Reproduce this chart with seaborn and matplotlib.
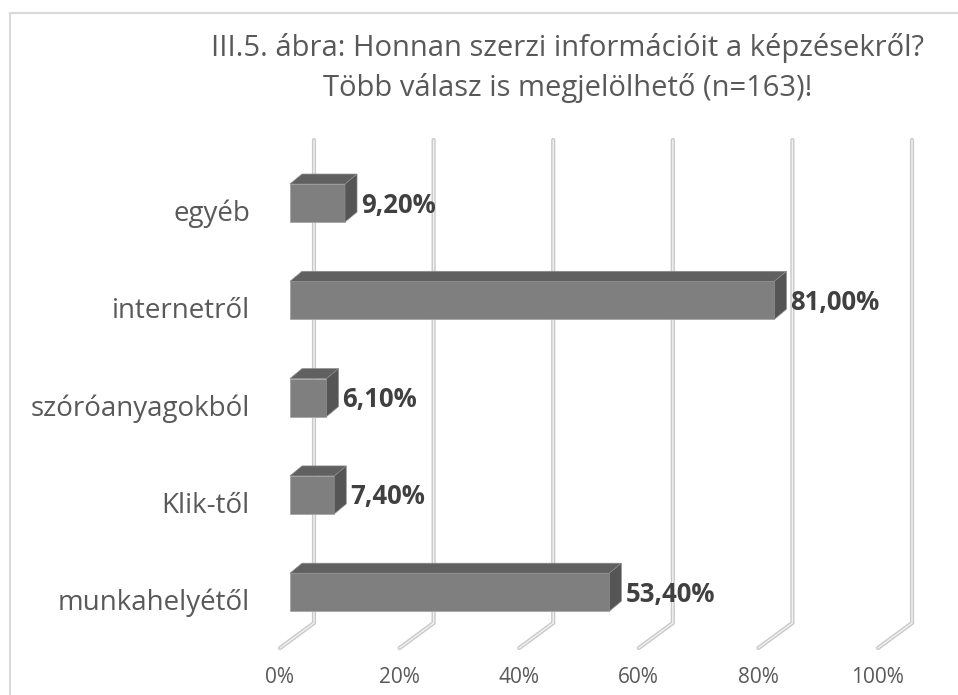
import matplotlib
matplotlib.use("Agg")
import matplotlib.pyplot as plt
from matplotlib.patches import Polygon
from matplotlib.lines import Line2D
import seaborn as sns
import pandas as pd

# ---- data ----
categories = ["egyéb", "internetről", "szóróanyagokból", "Klik-től", "munkahelyétől"]
values = [9.2, 81.0, 6.1, 7.4, 53.4]
tick_values = [0, 20, 40, 60, 80, 100]
tick_labels = ["0%", "20%", "40%", "60%", "80%", "100%"]
title_lines = ["III.5. ábra: Honnan szerzi információit a képzésekről?",
               "Több válasz is megjelölhető (n=163)!"]

sns.set_theme(style="white")
plt.rcParams["font.family"] = ["Open Sans", "DejaVu Sans"]

W, H = 958, 695
fig = plt.figure(figsize=(W / 100, H / 100), dpi=100)

# pixel geometry helpers
X0PX = 290.0      # pixel of 0 % on front plane
XS = 5.98         # pixels per percent
Y0PX = 203.0      # pixel of first category centre (front face)
YS = 97.3         # pixels per category

xlim = (-3, 106)
ytop_px, ybot_px = 130, 690
ax_left = X0PX + xlim[0] * XS
ax_w = (xlim[1] - xlim[0]) * XS
ax = fig.add_axes([ax_left / W, (H - ybot_px) / H, ax_w / W, (ybot_px - ytop_px) / H])

df = pd.DataFrame({"cat": categories, "val": values})
sns.barplot(data=df, x="val", y="cat", orient="h", color="#7f7f7f", saturation=1,
            width=0.39, edgecolor="#a6a6a6", linewidth=0.6, ax=ax, zorder=3)

def py(p):
    return (p - Y0PX) / YS

ax.set_xlim(*xlim)
ax.set_ylim(py(ybot_px), py(ytop_px))
ax.axis("off")

# 3D-ish gridlines (back wall + floor edge)
back_dx = 24 / XS
floor_dx = -10 / XS
for v in tick_values:
    xs = [v + back_dx, v + back_dx, v + floor_dx]
    ys = [py(140), py(623), py(648)]
    ax.plot(xs, ys, color="#c9c9c9", lw=3.0, solid_capstyle="round",
            solid_joinstyle="miter", zorder=1, clip_on=False)
    ax.plot(xs, ys, color="#f2f2f2", lw=1.0, zorder=1.1, clip_on=False)

# 3D faces for bars
dx = 12 / XS
dy = -10 / YS
for p in ax.patches[:len(values)]:
    x0, y0 = p.get_x(), p.get_y()
    w, h = p.get_width(), p.get_height()
    x1 = x0 + w
    top = Polygon([(x0, y0), (x1, y0), (x1 + dx, y0 + dy), (x0 + dx, y0 + dy)],
                  closed=True, facecolor="#606060", edgecolor="#8a8a8a", lw=0.5, zorder=3)
    side = Polygon([(x1, y0), (x1 + dx, y0 + dy), (x1 + dx, y0 + h + dy), (x1, y0 + h)],
                   closed=True, facecolor="#555555", edgecolor="#8a8a8a", lw=0.5, zorder=3)
    ax.add_patch(top)
    ax.add_patch(side)

# value labels
for i, v in enumerate(values):
    txt = f"{v:.2f}".replace(".", ",") + "%"
    ax.text(v + dx + 4 / XS, i + 2 / YS, txt, ha="left", va="center",
            fontsize=18.5, fontweight="bold", color="#404040", zorder=5)

# category labels
for i, c in enumerate(categories):
    ax.text((250 - X0PX) / XS, i + 18 / YS, c, ha="right", va="baseline",
            fontsize=20, color="#595959", clip_on=False)

# x tick labels
for v, lab in zip(tick_values, tick_labels):
    ax.text(v + floor_dx, py(677), lab, ha="center", va="center",
            fontsize=15, color="#595959", clip_on=False)

# title
fig.text(567.5 / W, 1 - 56 / H, title_lines[0], ha="center", va="baseline",
         fontsize=21, color="#595959")
fig.text(567.5 / W, 1 - 96 / H, title_lines[1], ha="center", va="baseline",
         fontsize=21, color="#595959")

# chart area border
fig.add_artist(Line2D([9.5 / W, 9.5 / W], [0, 1 - 13 / H], color="#d9d9d9", lw=1.5))
fig.add_artist(Line2D([9.5 / W, 1], [1 - 13 / H, 1 - 13 / H], color="#d9d9d9", lw=1.5))

fig.savefig("out.png", dpi=100)
